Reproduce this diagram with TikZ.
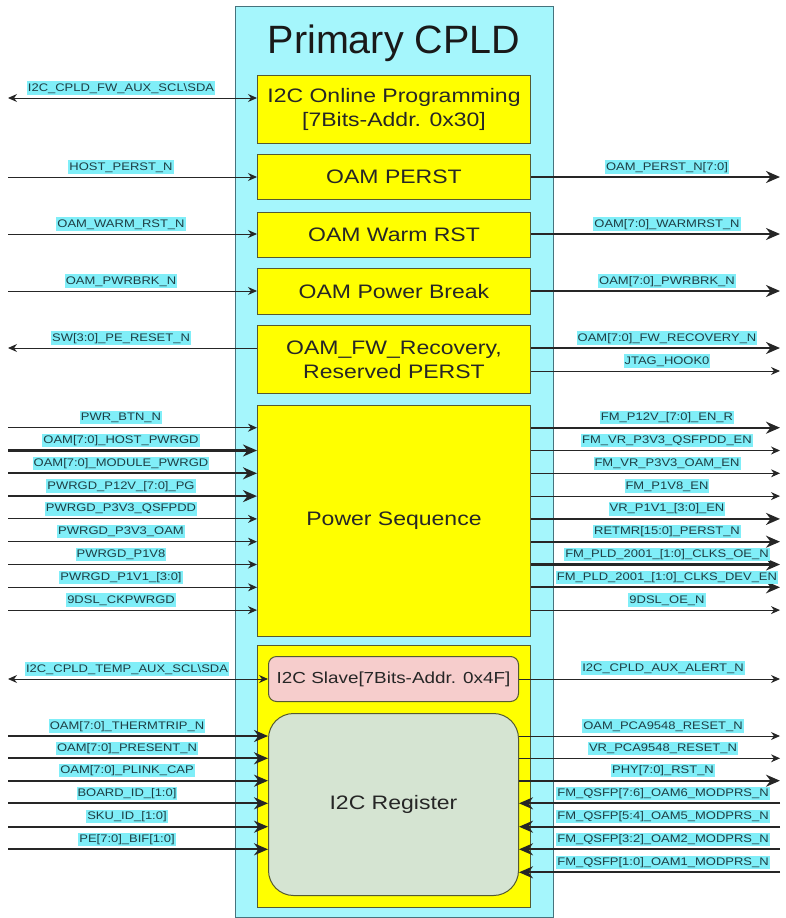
\documentclass[tikz,border=0pt]{standalone}
\usepackage{fontspec}
\setmainfont{Liberation Sans}
\newfontfamily\lblf[FakeStretch=1.18]{Liberation Sans}
\newfontfamily\boxf[FakeStretch=1.18]{Liberation Sans}
\usetikzlibrary{arrows.meta}
\definecolor{outercyan}{RGB}{165,246,252}
\definecolor{lblcyan}{RGB}{128,238,248}
\definecolor{lbltext}{RGB}{30,62,68}
\definecolor{yboxc}{RGB}{255,255,0}
\definecolor{pinkbox}{RGB}{246,205,204}
\definecolor{regbox}{RGB}{213,228,210}
\definecolor{bordc}{RGB}{85,90,50}
\definecolor{outbord}{RGB}{70,115,125}
\begin{document}
\begin{tikzpicture}[x=1pt,y=-1pt,
  lbl/.style={fill=lblcyan, text=lbltext, font=\fontsize{11}{13}\lblf, inner xsep=1pt, inner ysep=1.3pt, text height=8.4pt, text depth=2.4pt},
  yb/.style={draw=bordc, fill=yboxc, line width=1pt, anchor=north west, inner sep=0pt, align=center, font=\fontsize{19.5}{24}\boxf, text=black!85},
  sigthin/.style={draw=black!85, line width=1pt, -{Stealth[length=9pt,width=8pt]}},
  sigthick/.style={draw=black!85, line width=2.3pt, -{Stealth[length=14pt,width=12pt]}},
  bidir/.style={draw=black!85, line width=1pt, {Stealth[length=9pt,width=8pt]}-{Stealth[length=9pt,width=8pt]}}
]
\useasboundingbox (0,0) rectangle (785,918);

% outer CPLD box
\node[draw=outbord, fill=outercyan, line width=1.2pt, minimum width=318pt, minimum height=911pt, anchor=north west, inner sep=0pt] (cpld) at (235,6) {};
\node[anchor=base, font=\fontsize{39.5}{44}\selectfont, text=black!90] (title) at (394,53) {Primary CPLD};

% inner blocks
\node[yb, minimum width=273pt, minimum height=68pt] (ip) at (257,75) {I2C Online Programming\\{[}7Bits-Addr. 0x30{]}};
\node[yb, minimum width=273pt, minimum height=45pt] (perst) at (257,154) {OAM PERST};
\node[yb, minimum width=273pt, minimum height=45pt] (warm) at (257,212) {OAM Warm RST};
\node[yb, minimum width=273pt, minimum height=46pt] (pbrk) at (257,268) {OAM Power Break};
\node[yb, minimum width=273pt, minimum height=68pt] (fwr) at (257,325) {OAM\_FW\_Recovery,\\Reserved PERST};
\node[yb, minimum width=273pt, minimum height=231pt] (ps) at (257,405) {Power Sequence};
\node[yb, minimum width=273pt, minimum height=262pt] (bot) at (257,645) {};
\node[yb, fill=pinkbox, rounded corners=8pt, minimum width=250pt, minimum height=45pt, font=\fontsize{16}{20}\boxf] (slave) at (268,656) {I2C Slave[7Bits-Addr. 0x4F]};
\node[yb, fill=regbox, rounded corners=25pt, minimum width=250pt, minimum height=182pt] (reg) at (268,713) {I2C Register};

% ---- top left signals
\coordinate (a1) at (8,98);
\draw[bidir] (a1) -- (a1 -| ip.west);
\node[lbl] (la1) at (121,88) {I2C\_CPLD\_FW\_AUX\_SCL\textbackslash SDA};
\coordinate (a2) at (8,177);
\draw[sigthin] (a2) -- (a2 -| perst.west);
\node[lbl] (la2) at (121,167) {HOST\_PERST\_N};
\coordinate (a3) at (8,234);
\draw[sigthin] (a3) -- (a3 -| warm.west);
\node[lbl] (la3) at (121,224) {OAM\_WARM\_RST\_N};
\coordinate (a4) at (8,291);
\draw[sigthin] (a4) -- (a4 -| pbrk.west);
\node[lbl] (la4) at (121,281) {OAM\_PWRBRK\_N};
\coordinate (a5) at (8,348);
\draw[sigthin] (a5 -| fwr.west) -- (a5);
\node[lbl] (la5) at (121,338) {SW[3:0]\_PE\_RESET\_N};

% ---- top right signals
\coordinate (b1) at (780,177);
\draw[sigthick] (b1 -| perst.east) -- (b1);
\node[lbl] (lb1) at (667,167) {OAM\_PERST\_N[7:0]};
\coordinate (b2) at (780,234);
\draw[sigthick] (b2 -| warm.east) -- (b2);
\node[lbl] (lb2) at (667,224) {OAM[7:0]\_WARMRST\_N};
\coordinate (b3) at (780,291);
\draw[sigthick] (b3 -| pbrk.east) -- (b3);
\node[lbl] (lb3) at (667,281) {OAM[7:0]\_PWRBRK\_N};
\coordinate (b4) at (780,348);
\draw[sigthick] (b4 -| fwr.east) -- (b4);
\node[lbl] (lb4) at (667,338) {OAM[7:0]\_FW\_RECOVERY\_N};
\coordinate (b5) at (780,371);
\draw[sigthin] (b5 -| fwr.east) -- (b5);
\node[lbl] (lb5) at (667,361) {JTAG\_HOOK0};

% ---- power sequence inputs
\foreach \yy/\txt/\sty [count=\i] in {
  427.7/PWR\_BTN\_N/sigthin,
  450.5/OAM[7:0]\_HOST\_PWRGD/sigthick,
  473.3/OAM[7:0]\_MODULE\_PWRGD/sigthick,
  496.1/PWRGD\_P12V\_[7:0]\_PG/sigthick,
  518.9/PWRGD\_P3V3\_QSFPDD/sigthin,
  541.7/PWRGD\_P3V3\_OAM/sigthin,
  564.5/PWRGD\_P1V8/sigthin,
  587.3/PWRGD\_P1V1\_[3:0]/sigthin,
  610.1/9DSL\_CKPWRGD/sigthin}{
  \coordinate (psl\i) at (8,\yy);
  \draw[\sty] (psl\i) -- (psl\i -| ps.west);
  \node[lbl] (pslt\i) at (121,\yy-10) {\txt};
}

% ---- power sequence outputs
\foreach \yy/\txt/\sty [count=\i] in {
  427.7/FM\_P12V\_[7:0]\_EN\_R/sigthick,
  450.5/FM\_VR\_P3V3\_QSFPDD\_EN/sigthin,
  473.3/FM\_VR\_P3V3\_OAM\_EN/sigthin,
  496.1/FM\_P1V8\_EN/sigthin,
  518.9/VR\_P1V1\_[3:0]\_EN/sigthick,
  541.7/RETMR[15:0]\_PERST\_N/sigthick,
  564.5/FM\_PLD\_2001\_[1:0]\_CLKS\_OE\_N/sigthick,
  587.3/FM\_PLD\_2001\_[1:0]\_CLKS\_DEV\_EN/sigthick,
  610.1/9DSL\_OE\_N/sigthin}{
  \coordinate (psr\i) at (780,\yy);
  \draw[\sty] (psr\i -| ps.east) -- (psr\i);
  \node[lbl] (psrt\i) at (667,\yy-10) {\txt};
}

% ---- I2C slave
\coordinate (c1) at (8,679);
\draw[bidir] (c1) -- (c1 -| slave.west);
\node[lbl] (lc1) at (127,669) {I2C\_CPLD\_TEMP\_AUX\_SCL\textbackslash SDA};
\coordinate (d1) at (780,679);
\draw[sigthin] (d1 -| slave.east) -- (d1);
\node[lbl] (ld1) at (663,668) {I2C\_CPLD\_AUX\_ALERT\_N};

% ---- register inputs (left)
\foreach \yy/\txt [count=\i] in {
  736/OAM[7:0]\_THERMTRIP\_N,
  758.3/OAM[7:0]\_PRESENT\_N,
  780.7/OAM[7:0]\_PLINK\_CAP,
  803.3/BOARD\_ID\_[1:0],
  826.7/SKU\_ID\_[1:0],
  849.3/PE[7:0]\_BIF[1:0]}{
  \coordinate (rl\i) at (8,\yy);
  \draw[sigthick] (rl\i) -- (rl\i -| reg.west);
  \node[lbl] (rlt\i) at (127,\yy-10) {\txt};
}

% ---- register outputs (right)
\foreach \yy/\txt/\sty [count=\i] in {
  736/OAM\_PCA9548\_RESET\_N/sigthin,
  758.3/VR\_PCA9548\_RESET\_N/sigthin,
  780.7/PHY[7:0]\_RST\_N/sigthick}{
  \coordinate (ro\i) at (780,\yy);
  \draw[\sty] (ro\i -| reg.east) -- (ro\i);
  \node[lbl] (rot\i) at (663,\yy-10) {\txt};
}

% ---- register inputs (right)
\foreach \yy/\txt [count=\i] in {
  803.3/FM\_QSFP[7:6]\_OAM6\_MODPRS\_N,
  826.7/FM\_QSFP[5:4]\_OAM5\_MODPRS\_N,
  849.3/FM\_QSFP[3:2]\_OAM2\_MODPRS\_N,
  872.3/FM\_QSFP[1:0]\_OAM1\_MODPRS\_N}{
  \coordinate (ri\i) at (780,\yy);
  \draw[sigthick] (ri\i) -- (ri\i -| reg.east);
  \node[lbl] (rit\i) at (663,\yy-10) {\txt};
}
\end{tikzpicture}
\end{document}
